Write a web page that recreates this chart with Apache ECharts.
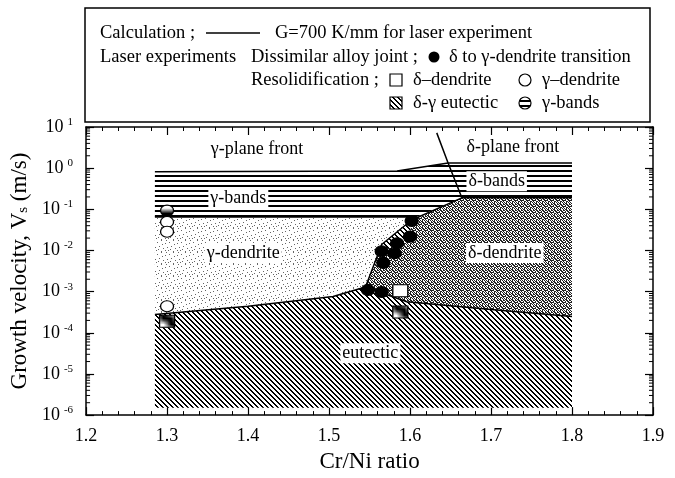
<!DOCTYPE html>
<html>
<head>
<meta charset="utf-8">
<script src="https://cdn.jsdelivr.net/npm/echarts@6/dist/echarts.min.js"></script>
<style>
html, body { margin: 0; padding: 0; background: #fff; }
#main { width: 675px; height: 478px; }
</style>
</head>
<body>
<div id="main"></div>
<script>
var FONT = '"Liberation Serif", "DejaVu Serif", serif';

// axis ranges / ticks
var xMin = 1.2, xMax = 1.9;
var yDecades = [1e-6, 1e-5, 1e-4, 1e-3, 1e-2, 1e-1, 1, 10];
var minorMult = [2, 3, 4, 5, 6, 7, 8, 9];

// regions  [Cr/Ni, Vs (m/s)]
var eutecticArea = [[1.285, 1.5e-6], [1.285, 2.8e-4], [1.4, 4.4e-4], [1.505, 7.6e-4], [1.545, 1.3e-3],
  [1.596, 5.7e-4], [1.7, 3.7e-4], [1.8, 2.5e-4], [1.8, 1.5e-6]];
var gammaDendriteArea = [[1.285, 2.8e-4], [1.4, 4.4e-4], [1.505, 7.6e-4], [1.545, 1.3e-3], [1.565, 0.014],
  [1.602, 0.055], [1.608, 0.065], [1.285, 0.065]];
var deltaDendriteArea = [[1.545, 1.3e-3], [1.565, 0.014], [1.602, 0.055], [1.664, 0.19], [1.8, 0.19],
  [1.8, 2.5e-4], [1.7, 3.7e-4], [1.596, 5.7e-4]];
var transitionHatch = [[1.565, 0.014], [1.602, 0.055], [1.600, 0.022], [1.584, 0.015], [1.566, 0.0096]];
var gammaBandsArea = [[1.285, 0.065], [1.608, 0.065], [1.664, 0.19], [1.647, 1.34], [1.584, 0.85], [1.285, 0.82]];
var deltaBandsArea = [[1.664, 0.19], [1.8, 0.19], [1.8, 1.34], [1.647, 1.34]];

// calculated boundaries
var eutecticLine = [[1.285, 2.8e-4], [1.4, 4.4e-4], [1.505, 7.6e-4], [1.545, 1.3e-3], [1.596, 5.7e-4],
  [1.7, 3.7e-4], [1.8, 2.5e-4]];
var deltaLine = [[1.545, 1.3e-3], [1.565, 0.014], [1.602, 0.055], [1.664, 0.19], [1.8, 0.19]];
var gammaBandLine = [[1.285, 0.065], [1.608, 0.065]];
var planeLine = [[1.285, 0.82], [1.584, 0.85], [1.647, 1.34], [1.8, 1.34]];
var frontLine = [[1.633, 7.2], [1.647, 1.34], [1.664, 0.19]];

// experiments
var transitionPts = [[1.602, 0.052], [1.600, 0.0217], [1.584, 0.0149], [1.565, 0.0096], [1.581, 0.0086],
  [1.567, 0.005], [1.548, 0.0011], [1.565, 0.00098]];
var deltaDendPts = [[1.588, 1.05e-3]];
var gammaDendPts = [[1.3, 0.049], [1.3, 0.0285], [1.3, 4.4e-4]];
var eutecticPts = [[1.3, 1.9e-4], [1.588, 3.2e-4]];
var gammaBandPts = [[1.3, 0.093]];

// region names
var labelNames = ['γ-plane front', 'δ-plane front', 'γ-bands', 'δ-bands', 'γ-dendrite', 'δ-dendrite', 'eutectic'];
var labelX = [1.411, 1.727, 1.388, 1.707, 1.394, 1.717, 1.551];
var labelY = [2.9, 3.2, 0.19, 0.48, 0.0087, 0.0087, 3.2e-5];
var labelBoxed = [false, false, true, true, true, true, true];

// fill patterns
function tile(w, h, draw) {
  var c = document.createElement('canvas');
  c.width = w; c.height = h;
  var g = c.getContext('2d');
  g.fillStyle = '#fff'; g.fillRect(0, 0, w, h);
  g.fillStyle = '#000';
  draw(g);
  return { image: c, repeat: 'repeat' };
}
var hatch = tile(5, 5, function (g) {
  for (var i = 0; i < 5; i++) { g.fillRect(i, i, 1, 1); g.fillRect((i + 1) % 5, i, 1, 1); }
});
var bands = tile(4, 5, function (g) { g.fillRect(0, 0, 4, 2); });
var darkDots = tile(6, 6, function (g) {
  g.fillStyle = '#222';
  ['101101', '010110', '110011', '001101', '101010', '011001'].forEach(function (row, y) {
    for (var x = 0; x < 6; x++) if (row[x] === '1') g.fillRect(x, y, 1, 1);
  });
});
var lightDots = tile(12, 12, function (g) {
  g.fillStyle = '#666';
  [[1, 2], [5, 0], [9, 3], [3, 6], [7, 8], [11, 7], [0, 10], [5, 11], [9, 10], [2, 9], [6, 4], [10, 0]]
    .forEach(function (p) { g.fillRect(p[0], p[1], 1, 1); });
});

function areaSeries(pts, fill) {
  return {
    type: 'custom', silent: true, z: 1, animation: false,
    data: pts,
    renderItem: function (params, api) {
      if (params.dataIndex !== 0) return null;
      return {
        type: 'polygon',
        shape: { points: pts.map(function (d) { return api.coord(d); }) },
        style: { fill: fill, stroke: null }
      };
    }
  };
}
function lineSeries(pts) {
  return {
    type: 'line', data: pts, symbol: 'none', silent: true, z: 3, animation: false,
    lineStyle: { color: '#000', width: 1.5 }
  };
}
function pointSeries(pts, symbol, fill) {
  return {
    type: 'scatter', data: pts, symbol: symbol, silent: true, z: 4, animation: false,
    symbolSize: symbol === 'rect' ? [15, 12] : [13, 11],
    itemStyle: { color: fill, borderColor: '#000', borderWidth: 1.2, opacity: 1 }
  };
}

var minorVals = [];
yDecades.slice(0, -1).forEach(function (d) {
  minorMult.forEach(function (m) { minorVals.push([xMin, d * m]); });
});

var labelData = labelNames.map(function (n, i) { return [labelX[i], labelY[i], i]; });

function axisX(pos, showLabel) {
  return {
    type: 'value', position: pos, min: xMin, max: xMax, interval: 0.1,
    axisLine: { onZero: false, lineStyle: { color: '#000', width: 1.5 } },
    axisTick: { inside: true, length: 8, lineStyle: { color: '#000', width: 1.2 } },
    minorTick: { show: true, splitNumber: 5, length: 4, lineStyle: { color: '#000', width: 1 } },
    splitLine: { show: false },
    axisLabel: {
      show: showLabel, fontFamily: FONT, fontSize: 18, color: '#000', margin: 12,
      formatter: function (v) { return v.toFixed(1); }
    },
    name: showLabel ? 'Cr/Ni ratio' : '', nameLocation: 'middle', nameGap: 33,
    nameTextStyle: { fontFamily: FONT, fontSize: 23, color: '#000' }
  };
}
function axisY(pos, showLabel) {
  return {
    type: 'log', logBase: 10, position: pos, min: 1e-6, max: 10,
    axisLine: { onZero: false, lineStyle: { color: '#000', width: 1.5 } },
    axisTick: { inside: true, length: 8, lineStyle: { color: '#000', width: 1.2 } },
    splitLine: { show: false },
    axisLabel: {
      show: showLabel, margin: 13,
      formatter: function (v) { return '{b|10}{e|' + Math.round(Math.log10(v)) + '}'; },
      rich: {
        b: { fontFamily: FONT, fontSize: 18, color: '#000' },
        e: { fontFamily: FONT, fontSize: 11, color: '#000', verticalAlign: 'top', padding: [0, 0, 10, 4] }
      }
    },
    name: showLabel ? 'Growth velocity, V{s|s} (m/s)' : '', nameLocation: 'middle', nameGap: 48,
    nameTextStyle: {
      fontFamily: FONT, fontSize: 23, color: '#000',
      rich: { s: { fontFamily: FONT, fontSize: 15, color: '#000', padding: [8, 0, 0, 0] } }
    }
  };
}

// legend box
var LX = 100, LX2 = 251, LX3 = 413, LX4 = 542;
var rows = [33, 57, 80, 103];
function legText(x, y, t) {
  return { type: 'text', x: x, y: y, style: { text: t, font: '18.5px ' + FONT, fill: '#000', verticalAlign: 'middle' } };
}
var graphic = [
  { type: 'rect', shape: { x: 85, y: 8, width: 565, height: 114 }, style: { fill: '#fff', stroke: '#000', lineWidth: 1.5 } },
  legText(LX, rows[0], 'Calculation ;'),
  { type: 'line', shape: { x1: 206, y1: rows[0], x2: 260, y2: rows[0] }, style: { stroke: '#000', lineWidth: 1.5 } },
  legText(275, rows[0], 'G=700 K/mm for laser experiment'),
  legText(LX, rows[1], 'Laser experiments'),
  legText(LX2, rows[1], 'Dissimilar alloy joint ;'),
  { type: 'circle', shape: { cx: 434, cy: rows[1], r: 5.5 }, style: { fill: '#000' } },
  legText(449, rows[1], 'δ to γ-dendrite transition'),
  legText(LX2, rows[2], 'Resolidification ;'),
  { type: 'rect', shape: { x: 390, y: rows[2] - 6, width: 12, height: 12 }, style: { fill: '#fff', stroke: '#000', lineWidth: 1.2 } },
  legText(LX3, rows[2], 'δ–dendrite'),
  { type: 'circle', shape: { cx: 525, cy: rows[2], r: 6 }, style: { fill: '#fff', stroke: '#000', lineWidth: 1.2 } },
  legText(LX4, rows[2], 'γ–dendrite'),
  { type: 'rect', shape: { x: 390, y: rows[3] - 6, width: 12, height: 12 }, style: { fill: hatch, stroke: '#000', lineWidth: 1.2 } },
  legText(LX3, rows[3], 'δ-γ eutectic'),
  { type: 'circle', shape: { cx: 525, cy: rows[3], r: 6 }, style: { fill: bands, stroke: '#000', lineWidth: 1.2 } },
  legText(LX4, rows[3], 'γ-bands')
];

var chart = echarts.init(document.getElementById('main'), null, { renderer: 'canvas' });
var option = {
  backgroundColor: '#fff',
  animation: false,
  grid: { left: 86, right: 22, top: 127, bottom: 54, containLabel: false },
  xAxis: [axisX('bottom', true), axisX('top', false)],
  yAxis: [axisY('left', true), axisY('right', false)],
  graphic: graphic,
  series: [
    areaSeries(eutecticArea, hatch),
    areaSeries(gammaDendriteArea, lightDots),
    areaSeries(deltaDendriteArea, darkDots),
    areaSeries(transitionHatch, hatch),
    areaSeries(gammaBandsArea, bands),
    areaSeries(deltaBandsArea, bands),
    lineSeries(eutecticLine),
    lineSeries(deltaLine),
    lineSeries(gammaBandLine),
    lineSeries(planeLine),
    lineSeries(frontLine),
    pointSeries(transitionPts, 'circle', '#000'),
    pointSeries(deltaDendPts, 'rect', '#fff'),
    pointSeries(gammaDendPts, 'circle', '#fff'),
    pointSeries(eutecticPts, 'rect', hatch),
    pointSeries(gammaBandPts, 'circle', bands),
    {
      type: 'custom', silent: true, z: 5, animation: false,
      data: minorVals,
      renderItem: function (params, api) {
        var v = api.value(1);
        var l = api.coord([xMin, v]), r = api.coord([xMax, v]);
        return {
          type: 'group', children: [
            { type: 'line', shape: { x1: l[0], y1: l[1], x2: l[0] + 4, y2: l[1] }, style: { stroke: '#000', lineWidth: 1 } },
            { type: 'line', shape: { x1: r[0], y1: r[1], x2: r[0] - 4, y2: r[1] }, style: { stroke: '#000', lineWidth: 1 } }
          ]
        };
      }
    },
    {
      type: 'custom', silent: true, z: 6, animation: false,
      data: labelData,
      renderItem: function (params, api) {
        var i = api.value(2);
        var p = api.coord([api.value(0), api.value(1)]);
        return {
          type: 'text', x: p[0], y: p[1],
          style: {
            text: labelNames[i], font: '18px ' + FONT, fill: '#000',
            align: 'center', verticalAlign: 'middle',
            backgroundColor: labelBoxed[i] ? '#fff' : null, padding: [1, 2]
          }
        };
      }
    }
  ]
};
chart.setOption(option);
</script>
</body>
</html>
